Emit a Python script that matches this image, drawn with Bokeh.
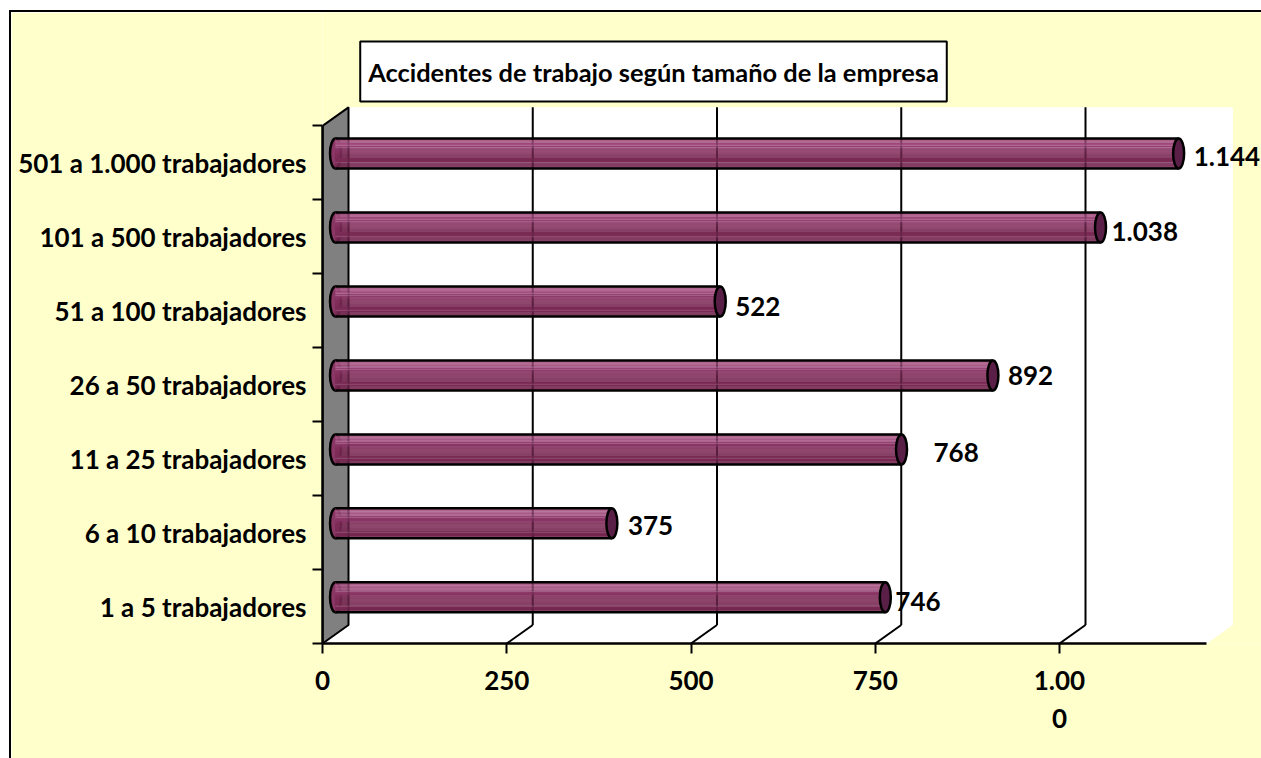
from bokeh.plotting import figure, ColumnDataSource
from bokeh.embed import file_html
from bokeh.resources import INLINE
from bokeh.models import Range1d, FixedTicker, Label
from bokeh.core.properties import value

categories = ["1 a 5 trabajadores", "6 a 10 trabajadores", "11 a 25 trabajadores",
              "26 a 50 trabajadores", "51 a 100 trabajadores", "101 a 500 trabajadores",
              "501 a 1.000 trabajadores"]
values = [746, 375, 768, 892, 522, 1038, 1144]
value_labels = ["746", "375", "768", "892", "522", "1.038", "1.144"]
x_ticks = [0, 250, 500, 750, 1000]
x_tick_labels = {0: "0", 250: "250", 500: "500", 750: "750", 1000: "1.00\n0"}
title_text = "Accidentes de trabajo según tamaño de la empresa"

# label nudges in screen px (hand placed in the original)
label_dx = [10, 16, 32, 15, 15, 11, 15]
label_dy = [4, 2, 3, 0, 5, 4, 3]

FONT = "Lato"
FSIZE = "26px"
WEIGHT = "bold"
YELLOW = "#ffffcc"
PX_PER_X = 0.737
PX_PER_Y = 73.95
FIG_L, FIG_T = 9, 10
BORDER = 2
LEFT, TOP, BOTTOM, RIGHT = 322, 12, 643, 1261
DX = 26 / PX_PER_X       # depth of the 3D box, data units
DY = 18.5 / PX_PER_Y
X_MAX = 1200
n = len(categories)

p = figure(width=RIGHT - FIG_L, height=758 - FIG_T, output_backend="svg", toolbar_location=None,
           x_range=Range1d(0, (RIGHT - LEFT) / PX_PER_X),
           y_range=Range1d(0, (BOTTOM - TOP) / PX_PER_Y),
           min_border_left=LEFT - FIG_L - BORDER, min_border_right=BORDER, min_border_top=0,
           min_border_bottom=758 - BOTTOM + BORDER, margin=(FIG_T, 0, 0, FIG_L),
           border_fill_color=YELLOW, background_fill_color=YELLOW, outline_line_color=None)
p.styles = {"border-left": "2px solid #000", "border-top": "2px solid #000", "box-sizing": "border-box"}
p.grid.visible = False

# walls
TOP_Y = n + DY
p.patch([DX, X_MAX + DX, X_MAX + DX, X_MAX, 0, DX], [TOP_Y, TOP_Y, DY, 0, 0, TOP_Y],
        fill_color="#ffffff", line_color=None)
p.patch([0, DX, DX, 0], [n, TOP_Y, DY, 0], fill_color="#808080", line_color="#000000", line_width=2)

# gridlines: back wall plus the step across the floor
gx = x_ticks[1:]
p.segment(x0=[t + DX for t in gx], y0=[DY] * len(gx), x1=[t + DX for t in gx], y1=[TOP_Y] * len(gx),
          line_color="#000000", line_width=2)
p.segment(x0=gx, y0=[0] * len(gx), x1=[t + DX for t in gx], y1=[DY] * len(gx),
          line_color="#000000", line_width=2)

# bars
ys = [i + 0.5 + DY / 2 for i in range(n)]
x0 = DX / 2
ends = [x0 + v for v in values]
BAR_PX = 30
BANDS = ["#903a6c", "#a04a7c", "#a85082", "#b0668f", "#a04a7c", "#a04a7c", "#b36e98", "#93406f",
         "#a8628c", "#8f3c6b", "#8a3666", "#8a3666", "#863260", "#832f5c", "#812e5a", "#7f2d59",
         "#7e2d58", "#7d2c57", "#7d2c57", "#7c2c56", "#7c2c56", "#7c2c56", "#8f4c70", "#7a2b55",
         "#782a53", "#762951", "#742850", "#70264d"]
band_h = BAR_PX / len(BANDS) / PX_PER_Y
half = BAR_PX / 2 / PX_PER_Y
p.ellipse(x=[x0] * n, y=ys, width=11, height=BAR_PX, width_units="screen", height_units="screen",
          fill_color="#8a3766", line_color="#000000", line_width=2.5)
for k, c in enumerate(BANDS):
    yk = [y + half - (k + 0.5) * band_h for y in ys]
    p.hbar(y=yk, left=[x0] * n, right=ends, height=band_h, fill_color=c, line_color=c, line_width=0.3)
# the gridlines and wall edge show faintly through the bars
ghost_x, ghost_y0, ghost_y1 = [], [], []
for y, e in zip(ys, ends):
    for g in [DX] + [t + DX for t in gx]:
        if g < e:
            ghost_x.append(g); ghost_y0.append(y - half); ghost_y1.append(y + half)
p.segment(x0=ghost_x, x1=ghost_x, y0=ghost_y0, y1=ghost_y1, line_color="#000000", line_alpha=0.16, line_width=2)
p.segment(x0=[x0] * n, x1=ends, y0=[y + half for y in ys], y1=[y + half for y in ys], line_color="#000000", line_width=2.5)
p.segment(x0=[x0] * n, x1=ends, y0=[y - half for y in ys], y1=[y - half for y in ys], line_color="#000000", line_width=2.5)
p.ellipse(x=ends, y=ys, width=11, height=BAR_PX, width_units="screen", height_units="screen",
          fill_color="#5a1f47", line_color="#000000", line_width=2.5)

# value labels
src = ColumnDataSource(dict(x=ends, y=ys, t=value_labels, dx=label_dx, dy=label_dy))
p.text(x="x", y="y", text="t", source=src, x_offset="dx", y_offset="dy", text_baseline="middle",
       text_align="left", text_font=value(FONT), text_font_size=FSIZE, text_font_style=WEIGHT, text_color="#000000")

# axes
ax = p.xaxis[0]
ax.ticker = FixedTicker(ticks=x_ticks)
ax.major_label_overrides = x_tick_labels
ax.bounds = (0, X_MAX)
ax.axis_line_color = "#000000"
ax.axis_line_width = 2.5
ax.major_tick_line_color = "#000000"
ax.major_tick_line_width = 2
ax.major_tick_in = 0
ax.major_tick_out = 10
ax.minor_tick_line_color = None
ax.major_label_standoff = 10
ax.major_label_text_font = FONT
ax.major_label_text_font_size = FSIZE
ax.major_label_text_font_style = WEIGHT
ax.major_label_text_color = "#000000"

ay = p.yaxis[0]
ay.ticker = FixedTicker(ticks=[i + 0.5 for i in range(n)], minor_ticks=list(range(n + 1)))
ay.major_label_overrides = {i + 0.5: c for i, c in enumerate(categories)}
ay.bounds = (0, n)
ay.axis_line_color = "#000000"
ay.axis_line_width = 2.5
ay.major_tick_line_color = None
ay.major_tick_in = 0
ay.major_tick_out = 0
ay.minor_tick_line_color = "#000000"
ay.minor_tick_line_width = 2
ay.minor_tick_in = 0
ay.minor_tick_out = 10
ay.major_label_standoff = 6
ay.major_label_text_font = FONT
ay.major_label_text_font_size = FSIZE
ay.major_label_text_font_style = WEIGHT
ay.major_label_text_color = "#000000"

# title box
p.add_layout(Label(x=(653 - LEFT) / PX_PER_X, y=(BOTTOM - 71) / PX_PER_Y, text=title_text,
                   text_align="center", text_baseline="middle", text_font=FONT, text_font_size="25.4px",
                   text_font_style=WEIGHT,
                   text_color="#000000", background_fill_color="#ffffff", border_line_color="#000000",
                   border_line_width=2, padding=(8, 15)))

open("out.html", "w").write(file_html(p, INLINE))
